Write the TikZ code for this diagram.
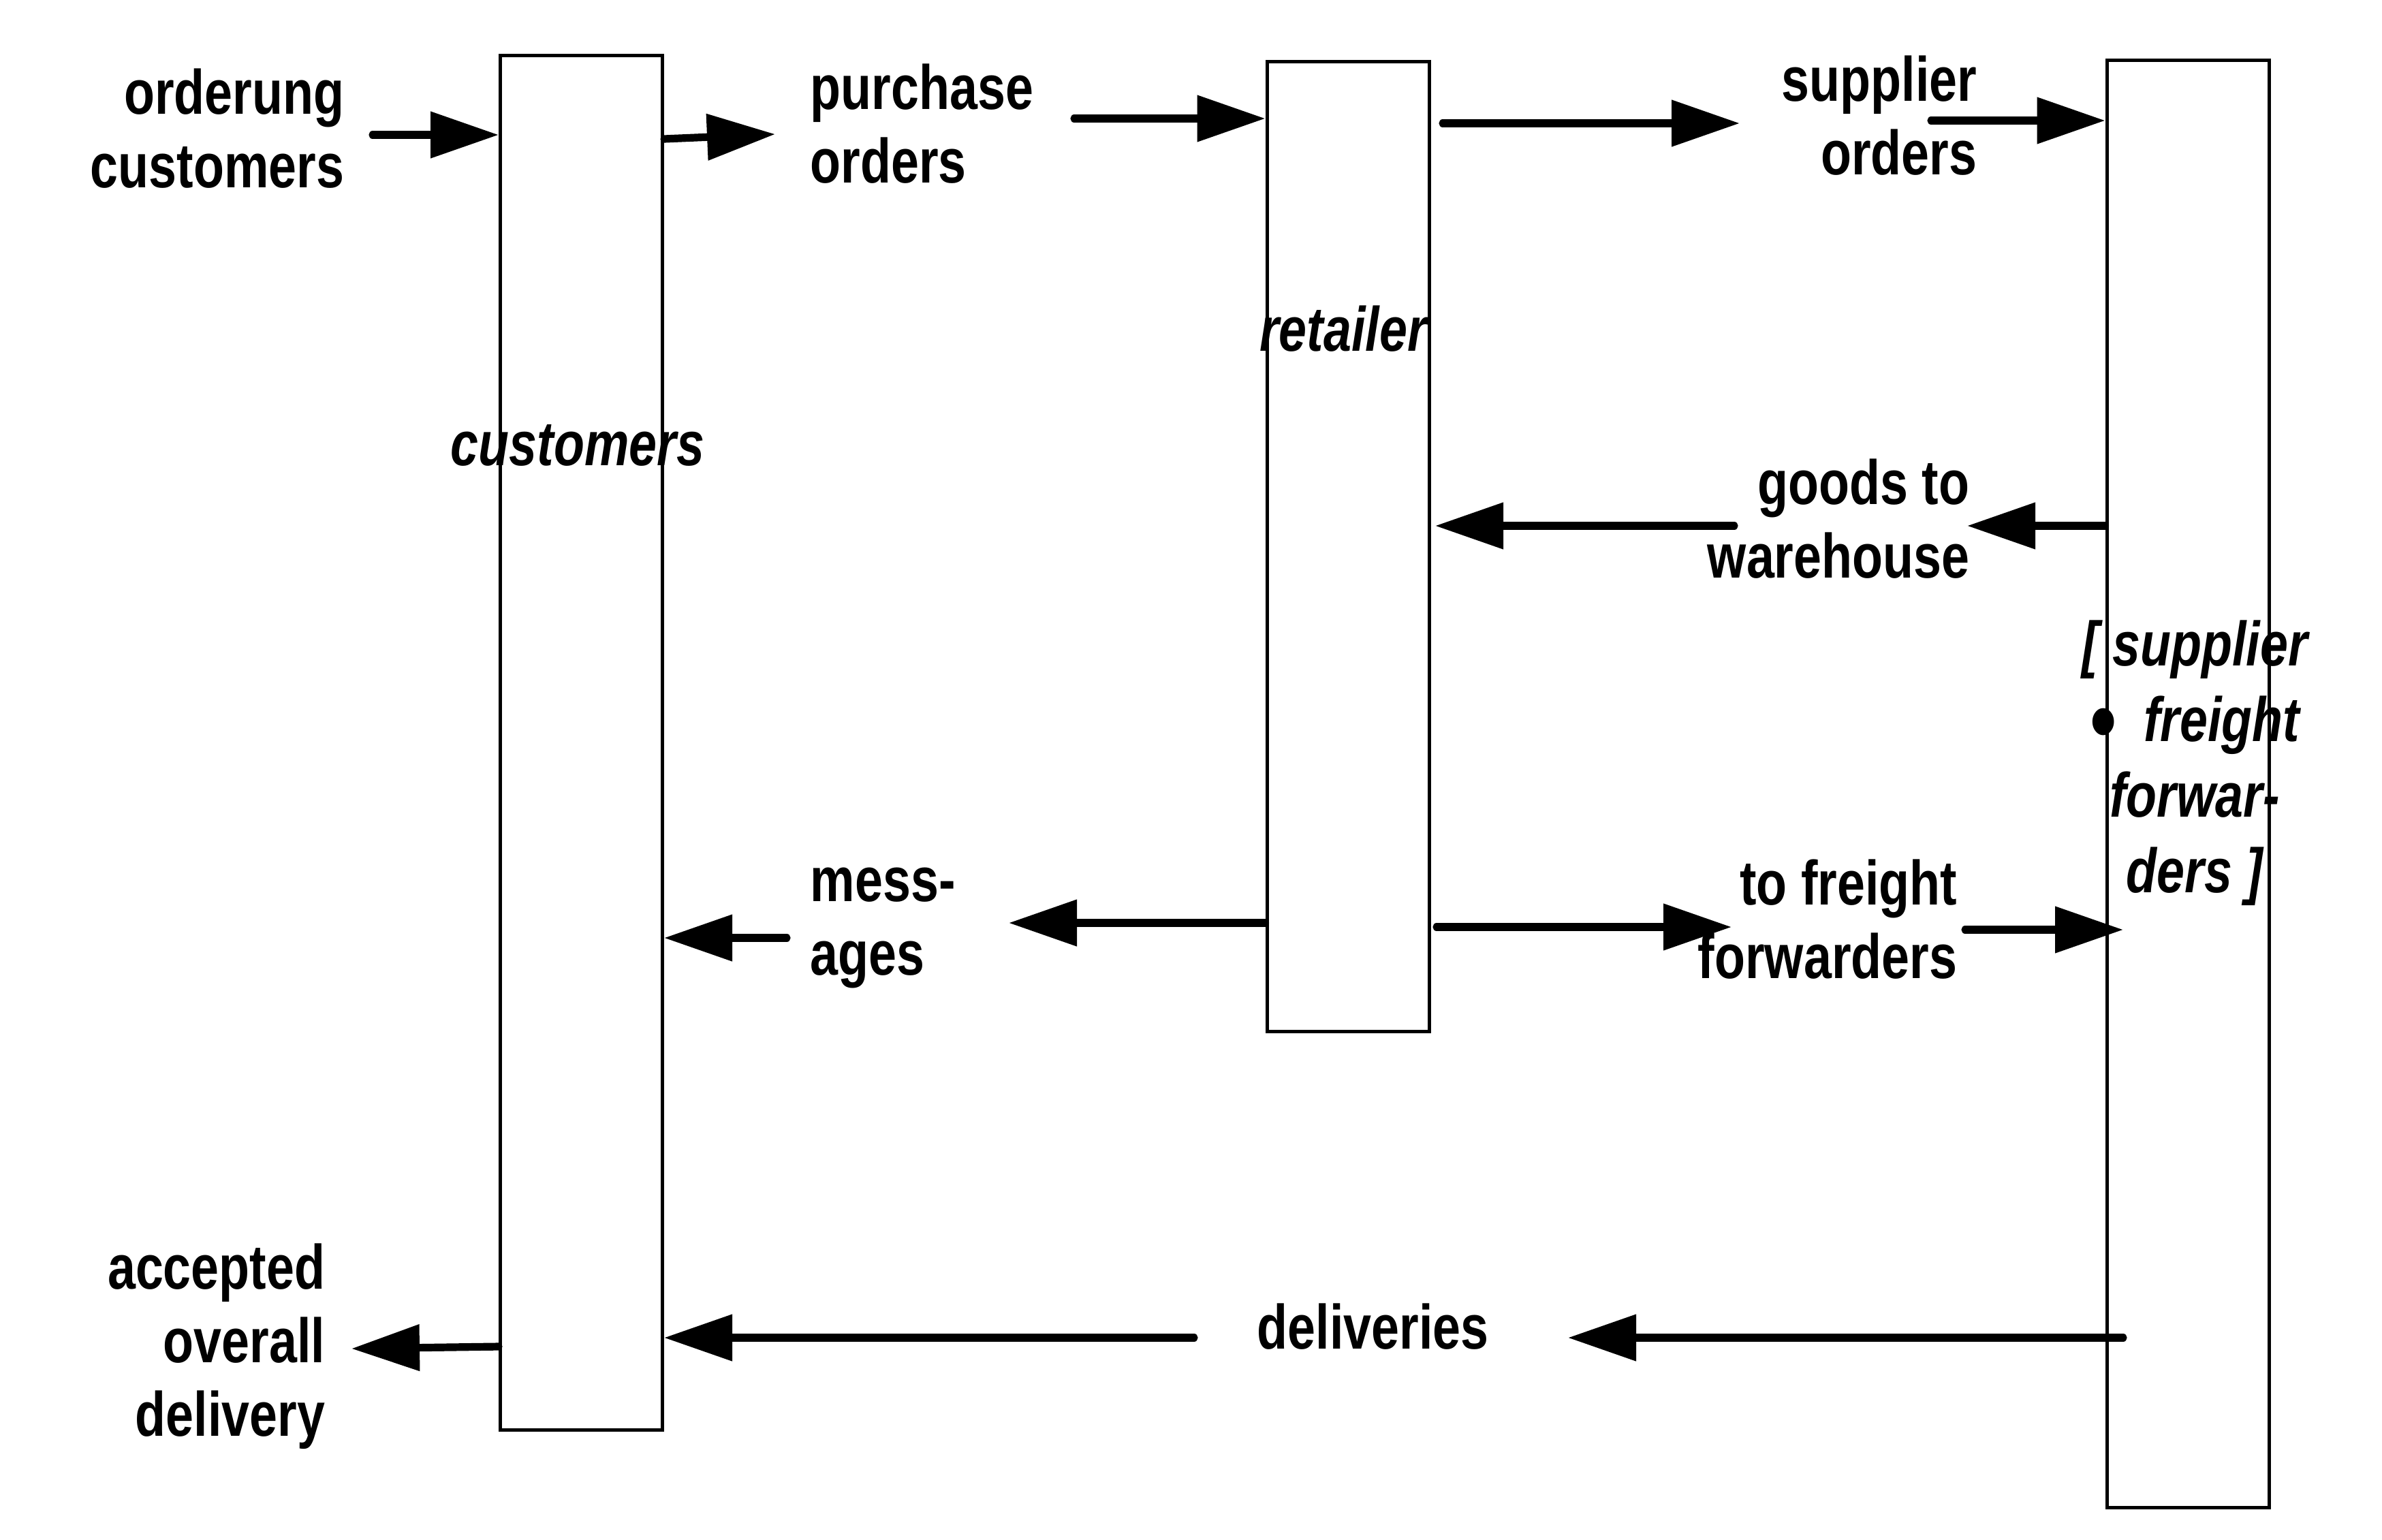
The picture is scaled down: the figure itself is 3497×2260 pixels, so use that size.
\documentclass[tikz,border=0pt]{standalone}
\usepackage{fontspec}
\usepackage{graphicx}
\setmainfont{Liberation Sans}[FakeStretch=0.8]
\usetikzlibrary{arrows.meta}
\newcommand{\bigbul}{\raisebox{-4.3pt}{\scalebox{1.5}{•}}}
\begin{document}
\begin{tikzpicture}[x=0.25pt,y=-0.25pt,
  box/.style={draw, line width=1.25pt, inner sep=0pt, minimum width=59.5pt},
  lbl/.style={inner sep=0pt, font=\fontsize{23}{27}\selectfont\bfseries},
  ilbl/.style={inner sep=0pt, font=\fontsize{23}{27}\selectfont\bfseries\itshape},
  arr/.style={line width=2.8pt, line cap=round, -{Triangle[length=25pt,width=16.5pt]}}]
\fill[white] (0,0) rectangle (3497,2260);
\useasboundingbox (0,0) rectangle (3497,2260);
% boxes
\node[box, minimum height=504.5pt] (cust) at (853.5,1090) {};
\node[box, minimum height=356pt] (ret) at (1979,802) {};
\node[box, minimum height=531.25pt] (sup) at (3212,1150.5) {};
% box labels
\node[ilbl, anchor=base] (custl) at (848,683) {customers};
\node[ilbl, anchor=base] (retl) at (1972,515) {retailer};
\node[ilbl, anchor=base, font=\fontsize{23}{27.75}\selectfont\bfseries\itshape] (supl) at (3222,977)
  {\begin{tabular}[t]{@{}c@{}}[ supplier\\\bigbul\ \ freight\\forwar-\\ders ]\end{tabular}};
% flow labels
\node[lbl, anchor=base east] (ordl) at (506,167) {\begin{tabular}[t]{@{}r@{}}orderung\\customers\end{tabular}};
\node[lbl, anchor=base west] (purl) at (1189,160) {\begin{tabular}[t]{@{}l@{}}purchase\\orders\end{tabular}};
\node[lbl, anchor=base east] (sorl) at (2903,148) {\begin{tabular}[t]{@{}r@{}}supplier\\orders\end{tabular}};
\node[lbl, anchor=base east] (goodl) at (2892,740) {\begin{tabular}[t]{@{}r@{}}goods to\\warehouse\end{tabular}};
\node[lbl, anchor=base west] (messl) at (1189,1323) {\begin{tabular}[t]{@{}l@{}}mess-\\ages\end{tabular}};
\node[lbl, anchor=base east] (ffl) at (2874,1328) {\begin{tabular}[t]{@{}r@{}}to freight\\forwarders\end{tabular}};
\node[lbl, anchor=base west] (dell) at (1845,1980) {deliveries};
\node[lbl, anchor=base east] (accl) at (478,1892) {\begin{tabular}[t]{@{}r@{}}accepted\\overall\\delivery\end{tabular}};
% connector end points
\coordinate (o1) at (547,198);
\coordinate (p1s) at (973,204);
\coordinate (p1e) at (1138,197);
\coordinate (p2) at (1577,174);
\coordinate (s1s) at (2118,181);
\coordinate (s1e) at (2554,181);
\coordinate (s2) at (2835,177);
\coordinate (g1) at (2888,772);
\coordinate (g2) at (2546,772);
\coordinate (g2e) at (2107,772);
\coordinate (m1) at (1481,1355);
\coordinate (m2) at (1155,1377);
\coordinate (f1s) at (2109,1361);
\coordinate (f1e) at (2542,1361);
\coordinate (f2s) at (2885,1365);
\coordinate (f2e) at (3117,1365);
\coordinate (d1s) at (3117,1964);
\coordinate (d1e) at (2302,1964);
\coordinate (d2) at (1753,1964);
\coordinate (a1s) at (733,1977);
\coordinate (a1e) at (516,1980);
% connectors
\draw[arr] (o1) -- (cust.west |- o1);
\draw[arr] (cust.east |- p1s) -- (p1e);
\draw[arr] (p2) -- (ret.west |- p2);
\draw[arr] (s1s) -- (s1e);
\draw[arr] (s2) -- (sup.west |- s2);
\draw[arr] (sup.west |- g1) -- (g1);
\draw[arr] (g2) -- (g2e);
\draw[arr] (ret.west |- m1) -- (m1);
\draw[arr] (m2) -- (cust.east |- m2);
\draw[arr] (f1s) -- (f1e);
\draw[arr] (f2s) -- (f2e);
\draw[arr] (d1s) -- (d1e);
\draw[arr] (d2) -- (cust.east |- d2);
\draw[arr] (cust.west |- a1s) -- (a1e);
\end{tikzpicture}
\end{document}
